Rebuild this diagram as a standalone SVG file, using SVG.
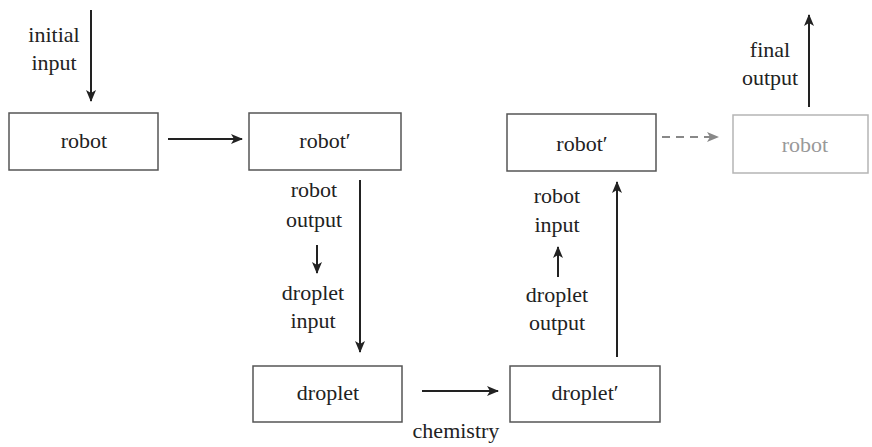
<svg xmlns="http://www.w3.org/2000/svg" width="872" height="447" viewBox="0 0 872 447">
<defs>
<marker id="ah" viewBox="0 0 12 10" refX="11" refY="5" markerWidth="12" markerHeight="10" markerUnits="userSpaceOnUse" orient="auto">
<path d="M0,0 L12,5 L0,10 L3,5 Z" fill="#222"/>
</marker>
<marker id="ahg" viewBox="0 0 12 10" refX="11" refY="5" markerWidth="12" markerHeight="10" markerUnits="userSpaceOnUse" orient="auto">
<path d="M0,0 L12,5 L0,10 L3,5 Z" fill="#888"/>
</marker>
</defs>
<rect width="872" height="447" fill="#fff"/>
<g id="connectors" stroke="#222" stroke-width="2" fill="none" marker-end="url(#ah)">
<line x1="91" y1="10" x2="91" y2="101"/>
<line x1="168" y1="139" x2="242" y2="139"/>
<line x1="360" y1="180" x2="360" y2="352"/>
<line x1="317" y1="245" x2="317" y2="273"/>
<line x1="422" y1="391" x2="498" y2="391"/>
<line x1="617" y1="357" x2="617" y2="182"/>
<line x1="558" y1="277" x2="558" y2="247"/>
<line x1="662" y1="137" x2="718" y2="137" stroke="#888" stroke-dasharray="8 6" marker-end="url(#ahg)"/>
<line x1="809" y1="107" x2="809" y2="15"/>
</g>
<g id="labels">
<text style="font-family:'Liberation Serif';font-size:22px" fill="#222" text-anchor="middle" x="54" y="42">initial</text>
<text style="font-family:'Liberation Serif';font-size:22px" fill="#222" text-anchor="middle" x="54" y="70">input</text>
<text style="font-family:'Liberation Serif';font-size:22px" fill="#222" text-anchor="middle" x="314" y="197">robot</text>
<text style="font-family:'Liberation Serif';font-size:22px" fill="#222" text-anchor="middle" x="314" y="227">output</text>
<text style="font-family:'Liberation Serif';font-size:22px" fill="#222" text-anchor="middle" x="313" y="300">droplet</text>
<text style="font-family:'Liberation Serif';font-size:22px" fill="#222" text-anchor="middle" x="313" y="328">input</text>
<text style="font-family:'Liberation Serif';font-size:22px" fill="#222" text-anchor="middle" x="456" y="438">chemistry</text>
<text style="font-family:'Liberation Serif';font-size:22px" fill="#222" text-anchor="middle" x="557" y="203">robot</text>
<text style="font-family:'Liberation Serif';font-size:22px" fill="#222" text-anchor="middle" x="557" y="232">input</text>
<text style="font-family:'Liberation Serif';font-size:22px" fill="#222" text-anchor="middle" x="557" y="302">droplet</text>
<text style="font-family:'Liberation Serif';font-size:22px" fill="#222" text-anchor="middle" x="557" y="330">output</text>
<text style="font-family:'Liberation Serif';font-size:22px" fill="#222" text-anchor="middle" x="770" y="57">final</text>
<text style="font-family:'Liberation Serif';font-size:22px" fill="#222" text-anchor="middle" x="770" y="85">output</text>
</g>
<g id="robot"><rect x="9" y="113" width="149" height="57" fill="#fff" stroke="#555" stroke-width="1.5"/><text style="font-family:'Liberation Serif';font-size:22px" fill="#222" text-anchor="middle" x="84" y="148">robot</text></g>
<g id="robot-prime"><rect x="249" y="113" width="152" height="57" fill="#fff" stroke="#555" stroke-width="1.5"/><text style="font-family:'Liberation Serif';font-size:22px" fill="#222" text-anchor="middle" x="325" y="148">robot&#x2032;</text></g>
<g id="droplet"><rect x="253" y="366" width="149" height="56" fill="#fff" stroke="#555" stroke-width="1.5"/><text style="font-family:'Liberation Serif';font-size:22px" fill="#222" text-anchor="middle" x="328" y="400">droplet</text></g>
<g id="droplet-prime"><rect x="510" y="366" width="150" height="56" fill="#fff" stroke="#555" stroke-width="1.5"/><text style="font-family:'Liberation Serif';font-size:22px" fill="#222" text-anchor="middle" x="585" y="400">droplet&#x2032;</text></g>
<g id="robot-prime-2"><rect x="507" y="114" width="149" height="57" fill="#fff" stroke="#555" stroke-width="1.5"/><text style="font-family:'Liberation Serif';font-size:22px" fill="#222" text-anchor="middle" x="582" y="151">robot&#x2032;</text></g>
<g id="robot-next"><rect x="733" y="115" width="135" height="58" fill="#fff" stroke="#b5b5b5" stroke-width="1.5"/><text style="font-family:'Liberation Serif';font-size:22px" fill="#999" text-anchor="middle" x="805" y="152">robot</text></g>
</svg>
